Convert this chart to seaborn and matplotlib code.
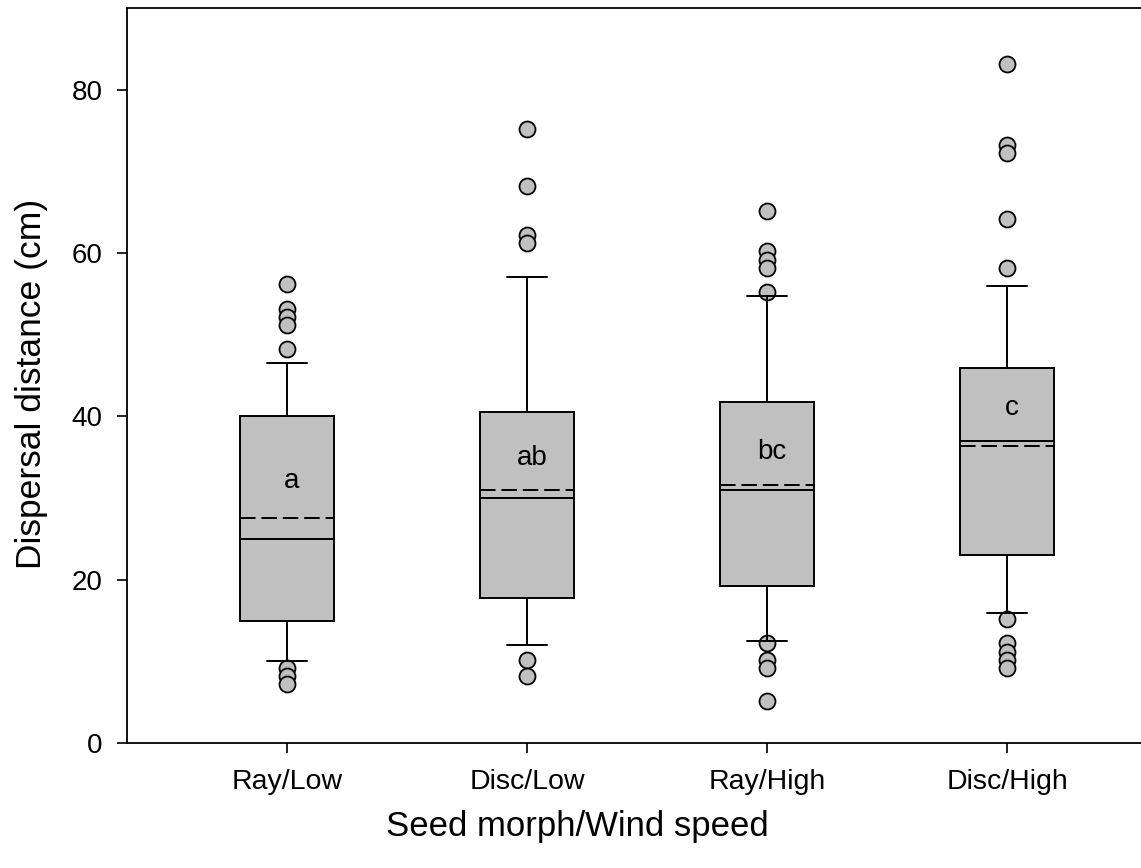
import numpy as np
import matplotlib
matplotlib.use("Agg")
import matplotlib.pyplot as plt
import pandas as pd
import seaborn as sns

# summary values (SigmaPlot style box: 10/90th whiskers, dashed mean)
groups = ["Ray/Low", "Disc/Low", "Ray/High", "Disc/High"]
q1 = [15.0, 17.7, 19.2, 23.0]
medians = [25.0, 30.0, 31.0, 37.0]
means = [27.5, 31.0, 31.6, 36.4]
q3 = [40.0, 40.5, 41.7, 45.9]
whis_low = [10.0, 12.0, 12.5, 15.9]
whis_high = [46.5, 57.1, 54.7, 55.9]

out_ray_low = [56.2, 53.2, 52.2, 51.2, 48.2, 9.2, 8.2, 7.2]
out_disc_low = [75.2, 68.2, 62.2, 61.2, 10.2, 8.2]
out_ray_high = [65.2, 60.2, 59.2, 58.2, 55.2, 12.2, 10.2, 9.2, 5.2]
out_disc_high = [83.2, 73.2, 72.2, 64.2, 58.2, 15.2, 12.2, 11.2, 10.2, 9.2]

letters = ["a", "ab", "bc", "c"]
letter_y = [32.1, 34.9, 35.6, 41.0]

sns.set_style("ticks")
plt.rcParams["font.family"] = ["Liberation Sans", "DejaVu Sans"]
plt.rcParams["text.color"] = "black"
plt.rcParams["axes.labelcolor"] = "black"
plt.rcParams["xtick.color"] = "black"
plt.rcParams["ytick.color"] = "black"

# long table of outlying points for seaborn
outliers = [out_ray_low, out_disc_low, out_ray_high, out_disc_high]
df = pd.DataFrame({
    "group": [g for g, o in zip(groups, outliers) for _ in o],
    "value": [v for o in outliers for v in o],
})

fig = plt.figure(figsize=(11.41, 8.68), dpi=100)
ax = fig.add_axes([0.1113, 0.144, 0.8887, 0.8468])

sns.stripplot(data=df, x="group", y="value", order=groups, jitter=False,
              color="#c0c0c0", edgecolor="black", linewidth=1.3, size=11.5,
              ax=ax, zorder=2)

stats = []
for i, g in enumerate(groups):
    stats.append(dict(label=g, q1=q1[i], med=medians[i], mean=means[i], q3=q3[i],
                      whislo=whis_low[i], whishi=whis_high[i], fliers=[]))

lw = 1.4
ax.bxp(stats, positions=range(len(groups)), widths=0.39, capwidths=0.17,
       patch_artist=True, showmeans=True, meanline=True, showfliers=False,
       boxprops=dict(facecolor="#c0c0c0", edgecolor="black", linewidth=lw),
       medianprops=dict(color="black", linewidth=lw),
       meanprops=dict(color="black", linestyle=(0, (8, 3)), linewidth=lw),
       whiskerprops=dict(color="black", linewidth=lw),
       capprops=dict(color="black", linewidth=lw),
       manage_ticks=False, zorder=3)

for i, t in enumerate(letters):
    ax.text(i + 0.02, letter_y[i], t, ha="center", va="center", fontsize=20,
            color="black", zorder=4)

ax.set_xlim(-0.667, 3.558)
ax.set_ylim(0, 90)
ax.set_yticks([0, 20, 40, 60, 80])
ax.set_xticks(range(len(groups)))
ax.set_xticklabels(groups)
ax.tick_params(axis="both", labelsize=20, length=7, width=1.2, color="black",
               labelcolor="black")
ax.tick_params(axis="x", labelsize=20.5, pad=12)
ax.tick_params(axis="y", pad=10.5)
ax.set_xlabel("Seed morph/Wind speed", fontsize=25, color="black")
ax.set_ylabel("Dispersal distance (cm)", fontsize=25.5, color="black")
ax.xaxis.set_label_coords(0.444, -0.091)
ax.yaxis.set_label_coords(-0.078, 0.488)

for s in ["left", "bottom", "top"]:
    ax.spines[s].set_linewidth(1.3)
    ax.spines[s].set_color("black")
ax.spines["right"].set_visible(False)

fig.savefig("out.png", dpi=100)
